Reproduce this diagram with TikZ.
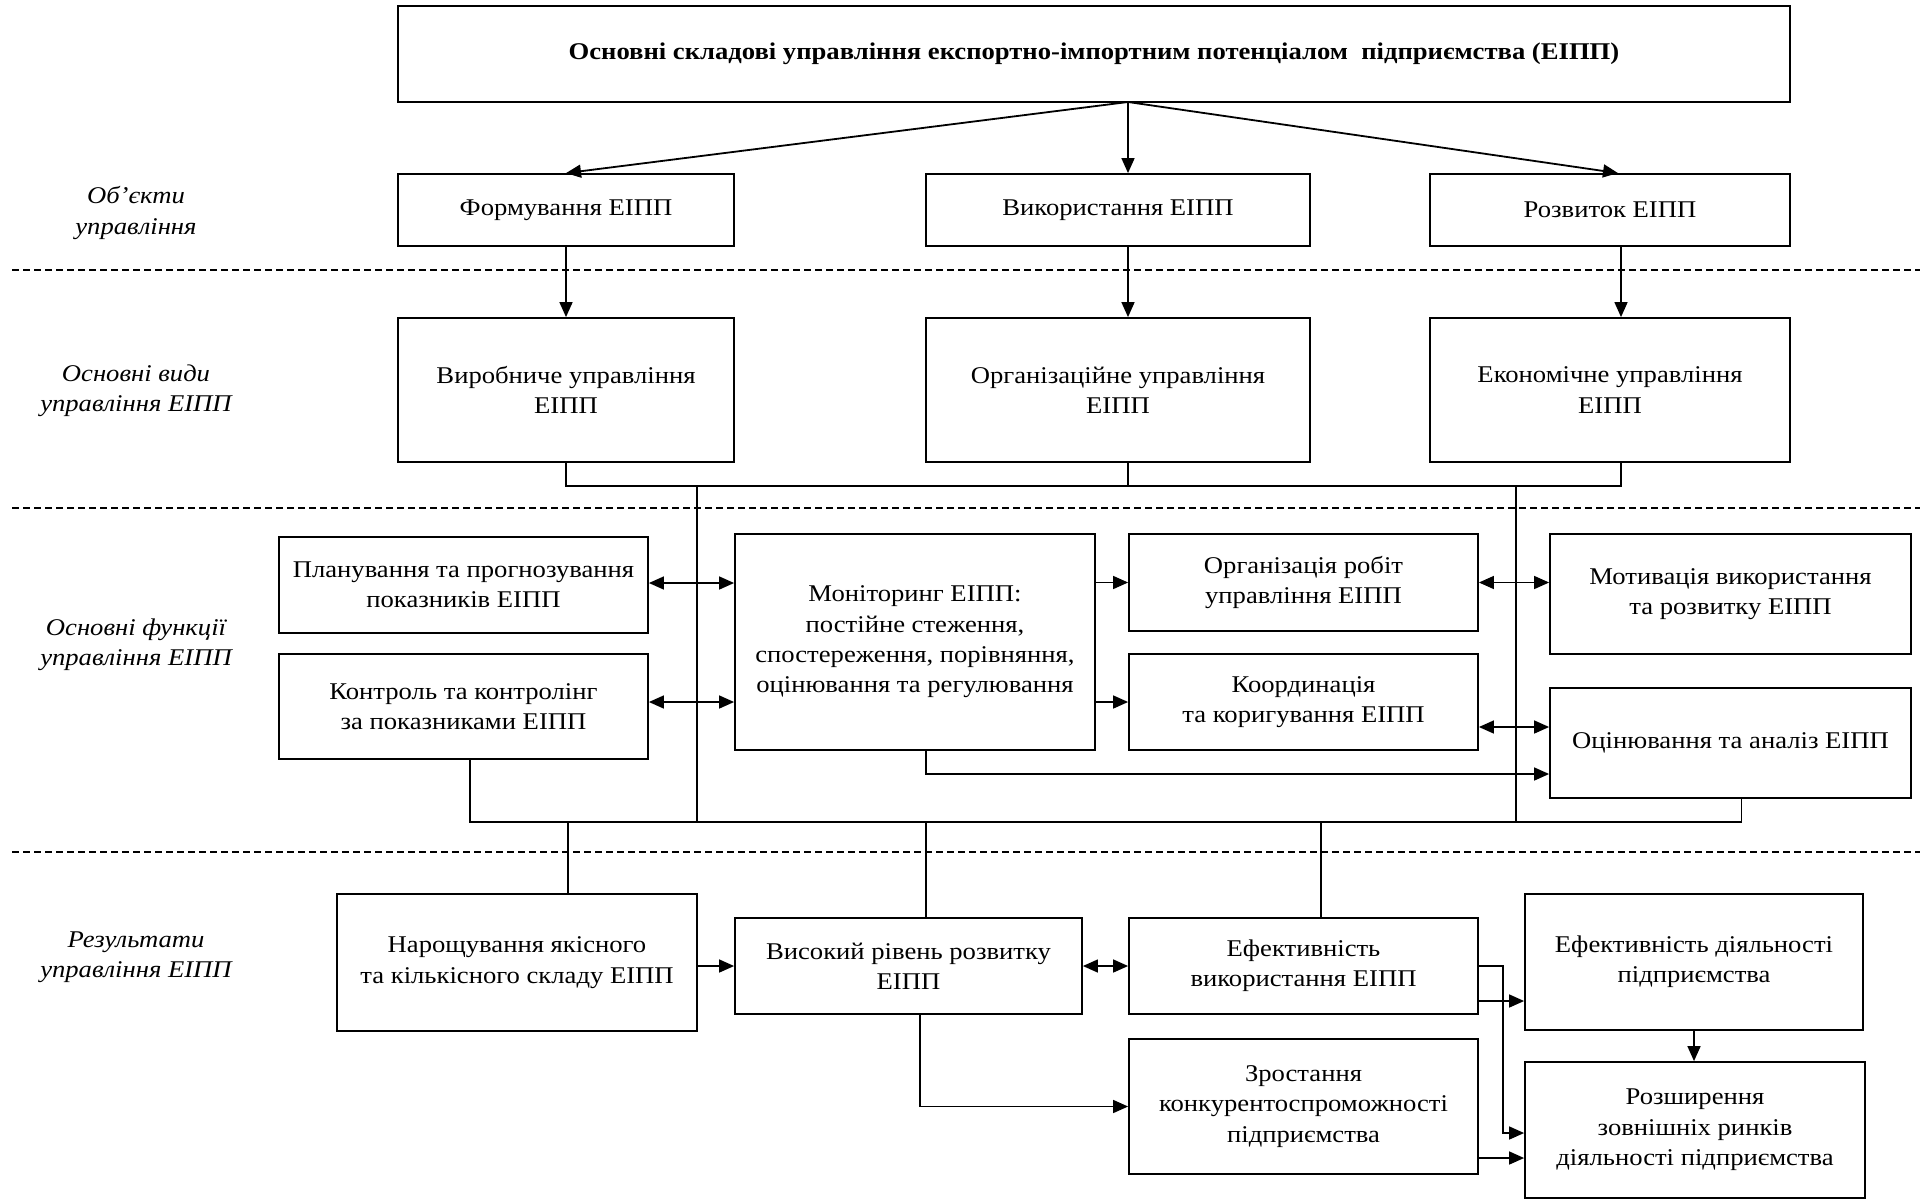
\documentclass[tikz,border=0pt]{standalone}
\usepackage{fontspec}
\setmainfont{Liberation Serif}[FakeStretch=1.11]
\usepackage{tikz}
\usetikzlibrary{
  arrows.meta,
  calc,
  positioning
}
\tikzset{
  box/.style={
    draw=black,
    line width=0.9pt,
    align=center,
    inner sep=2pt,
    font=\fontsize{12}{15.2}\selectfont
  },
  title/.style={
    box,
    font=\fontsize{12}{15.2}\selectfont\bfseries
  },
  sectlabel/.style={
    align=center,
    font=\fontsize{12}{15.2}\selectfont\itshape
  },
  flow/.style={
    -{Triangle[length=7.5pt,width=6.5pt]},
    line width=0.75pt
  },
  biflow/.style={
    {Triangle[length=7.5pt,width=6.5pt]}-{Triangle[length=7.5pt,width=6.5pt]},
    line width=0.75pt
  },
  link/.style={
    line width=0.75pt
  },
  divider/.style={
    line width=0.9pt,
    dash pattern=on 3.5pt off 2pt
  }
}

\begin{document}
\begin{tikzpicture}[x=0.5pt,y=-0.5pt]
  \useasboundingbox (0,0) rectangle (1925,1199);

  \foreach \y in {270,508,852}{
    \draw[divider] (12,\y) -- (1920,\y);
  }

  \node[sectlabel] (lobj) at (136,213) {Об’єкти\\управління};
  \node[sectlabel] (ltype) at (136,391) {Основні види\\управління ЕІПП};
  \node[sectlabel] (lfunc) at (136,645) {Основні функції\\управління ЕІПП};
  \node[sectlabel] (lres) at (136,957) {Результати\\управління ЕІПП};

  \node[title, minimum width=696pt, minimum height=48pt] (main) at (1094,54)
    {Основні складові управління експортно-імпортним потенціалом\ \ підприємства (ЕІПП)};

  \node[box, minimum width=168pt, minimum height=36pt] (form) at (566,210) {Формування ЕІПП};
  \node[box, minimum width=192pt, minimum height=36pt] (use) at (1118,210) {Використання ЕІПП};
  \node[box, minimum width=180pt, minimum height=36pt] (dev) at (1610,210) {Розвиток ЕІПП};

  \node[box, minimum width=168pt, minimum height=72pt] (prodm) at (566,390) {Виробниче управління\\ЕІПП};
  \node[box, minimum width=192pt, minimum height=72pt] (orgm) at (1118,390) {Організаційне управління\\ЕІПП};
  \node[box, minimum width=180pt, minimum height=72pt] (econm) at (1610,390) {Економічне управління\\ЕІПП};

  \node[box, minimum width=184.5pt, minimum height=48pt] (plan) at (463.5,585)
    {Планування та прогнозування\\показників ЕІПП};
  \node[box, minimum width=184.5pt, minimum height=52.5pt] (ctrl) at (463.5,706.5)
    {Контроль та контролінг\\за показниками ЕІПП};
  \node[box, minimum width=180pt, minimum height=108pt] (mon) at (915,642)
    {Моніторинг ЕІПП:\\постійне стеження,\\спостереження, порівняння,\\оцінювання та регулювання};
  \node[box, minimum width=174.5pt, minimum height=48.5pt] (org) at (1303.5,582.5)
    {Організація робіт\\управління ЕІПП};
  \node[box, minimum width=174.5pt, minimum height=48pt] (coord) at (1303.5,702)
    {Координація\\та коригування ЕІПП};
  \node[box, minimum width=180.5pt, minimum height=60pt] (motiv) at (1730.5,594)
    {Мотивація використання\\та розвитку ЕІПП};
  \node[box, minimum width=180.5pt, minimum height=55pt] (eval) at (1730.5,743)
    {Оцінювання та аналіз ЕІПП};

  \node[box, minimum width=180pt, minimum height=68.5pt] (grow) at (517,962.5)
    {Нарощування якісного\\та кількісного складу ЕІПП};
  \node[box, minimum width=173.5pt, minimum height=48pt] (high) at (908.5,966)
    {Високий рівень розвитку\\ЕІПП};
  \node[box, minimum width=174.5pt, minimum height=48pt] (eff) at (1303.5,966)
    {Ефективність\\використання ЕІПП};
  \node[box, minimum width=169pt, minimum height=68pt] (effact) at (1694,962)
    {Ефективність діяльності\\підприємства};
  \node[box, minimum width=174.5pt, minimum height=67.5pt] (comp) at (1303.5,1106.5)
    {Зростання\\конкурентоспроможності\\підприємства};
  \node[box, minimum width=170pt, minimum height=68pt] (mark) at (1695,1130)
    {Розширення\\зовнішніх ринків\\діяльності підприємства};

  \coordinate (hub) at (1128,102);
  \coordinate (busa) at (0,486);
  \coordinate (busb) at (0,822);
  \coordinate (dropl) at (697,486);
  \coordinate (dropr) at (1516,486);
  \coordinate (tapa) at (568,822);
  \coordinate (tapb) at (926,822);
  \coordinate (tapc) at (1321,822);

  \draw[flow, line width=0.9pt] (hub) -- (form.north);
  \draw[flow] (hub) -- (hub |- use.north);
  \draw[flow, line width=0.9pt] (hub) -- ([xshift=4pt]dev.north);

  \draw[flow] (form) -- (prodm);
  \draw[flow] (hub |- use.south) -- (hub |- orgm.north);
  \draw[flow] ([xshift=5.5pt]dev.south) -- ([xshift=5.5pt]econm.north);

  \draw[link] (prodm.south) -- (prodm.south |- busa)
    -- ([xshift=5.5pt]econm.south |- busa) -- ([xshift=5.5pt]econm.south);
  \draw[link] (hub |- orgm.south) -- (hub |- busa);
  \draw[link] (dropl) -- (dropl |- busb);
  \draw[link] (dropr) -- (dropr |- busb);

  \draw[link] ([xshift=3.25pt]ctrl.south) -- ([xshift=3.25pt]ctrl.south |- busb)
    -- ([xshift=5.5pt]eval.south |- busb) -- ([xshift=5.5pt]eval.south);
  \draw[link] (tapa) -- (tapa |- grow.north);
  \draw[link] (tapb) -- (tapb |- high.north);
  \draw[link] (tapc) -- (tapc |- eff.north);

  \draw[biflow] ([yshift=1pt]plan.east) -- ([yshift=1pt]plan.east -| mon.west);
  \draw[biflow] ([yshift=2.25pt]ctrl.east) -- ([yshift=2.25pt]ctrl.east -| mon.west);
  \draw[flow] (mon.east |- org.west) -- (org.west);
  \draw[flow] (mon.east |- coord.west) -- (coord.west);
  \draw[biflow] (org.east) -- (org.east -| motiv.west);
  \draw[biflow] ([yshift=-12.5pt]coord.east) -- ([yshift=-12.5pt]coord.east -| eval.west);
  \draw[flow] ([xshift=5.5pt]mon.south) |- ([yshift=-15.5pt]eval.west);

  \draw[flow] (grow.east |- high.west) -- (high.west);
  \draw[biflow] (high.east) -- (eff.west);
  \draw[flow] ([yshift=-17.5pt]eff.east) -- ([yshift=-17.5pt]eff.east -| effact.west);
  \draw[flow] (eff.east) -- ++(24,0) |- ([yshift=-1.5pt]mark.west);
  \draw[flow] (effact.south) -- (effact.south |- mark.north);
  \draw[flow] ([yshift=-25.75pt]comp.east) -- ([yshift=-25.75pt]comp.east -| mark.west);
  \draw[flow] ([xshift=5.75pt]high.south) |- (comp.west);
\end{tikzpicture}
\end{document}
